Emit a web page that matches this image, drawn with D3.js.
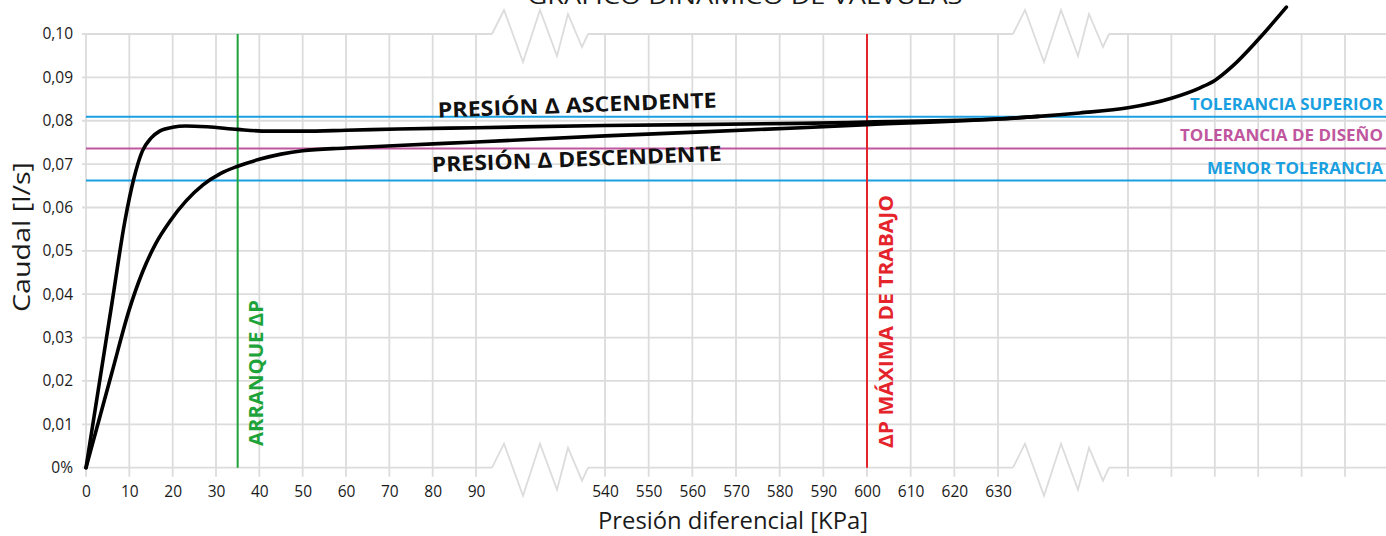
<!DOCTYPE html>
<html><head><meta charset="utf-8">
<script src="https://cdn.jsdelivr.net/npm/d3@7"></script>
<style>body{margin:0;background:#fff}svg{display:block}</style>
</head><body>
<script>
// ---------- DATA ----------
const xTicksLabeled = [0,10,20,30,40,50,60,70,80,90,540,550,560,570,580,590,600,610,620,630];
const xTicksHidden = [700,710,720,730,740,750];
const yTicks = [0,0.01,0.02,0.03,0.04,0.05,0.06,0.07,0.08,0.09,0.10];
const yTickLabels = ["0%","0,01","0,02","0,03","0,04","0,05","0,06","0,07","0,08","0,09","0,10"];
// Presión Δ ascendente (kPa, l/s)
const ascending = [[0,0],[3,0.019],[6,0.038],[9,0.057],[11,0.0665],[13,0.0730],[15,0.0760],[17,0.0776],[20,0.0785],[23,0.0788],[28,0.0786],[35,0.0780],[42,0.0776],[50,0.0776],[60,0.0778],[72,0.0781],[90,0.0784],[540,0.0789],[585,0.0794],[600,0.0797],[630,0.0804],[652,0.0810],[674,0.0818],[700,0.0830],[710,0.0852],[716.6,0.0876],[720,0.0893],[724.2,0.0927],[729.8,0.0985],[736.5,0.1062]];
// Presión Δ descendente
const descending = [[0,0],[3,0.011],[6,0.022],[10,0.0365],[13,0.0450],[16,0.0515],[19.5,0.0570],[23,0.0614],[27,0.0652],[31,0.0678],[35,0.0695],[40,0.0711],[45,0.0723],[50,0.0731],[60,0.0737],[72,0.0743],[90,0.0751],[540,0.0765],[585,0.0784],[600,0.0791],[630,0.0804],[652,0.0810]];
const tolerances = [
  {name:"TOLERANCIA SUPERIOR", value:0.0809, color:"#1a9fe0"},
  {name:"TOLERANCIA DE DISEÑO", value:0.0736, color:"#c0579e"},
  {name:"MENOR TOLERANCIA", value:0.0662, color:"#1a9fe0"}
];
const arranque = 35;
const maxTrabajo = 600;
const title = "GRÁFICO DINÁMICO DE VÁLVULAS";
const xTitle = "Presión diferencial [KPa]";
const yTitle = "Caudal [l/s]";

// ---------- LAYOUT ----------
const W = 1386, H = 536;
const svg = d3.select("body").append("svg").attr("width", W).attr("height", H);
const x = d3.scaleLinear().domain([0,90,540,630,700,750]).range([86,476,605,998,1128,1345]);
const y = d3.scaleLinear().domain([0,0.10]).range([467.7,34]);
const grid = "#dcdcdc", gw = 1.8;
const tickFont = "'Open Sans', sans-serif";
const boldFont = "'Open Sans', sans-serif";

// Break zigzag shape
const zig = [[0,0],[12,-24],[31,28],[48,-24],[65,22],[76,-20],[90,13],[96,0]];
const breaks = [x(90)+16, x(630)+15];
const gridG = svg.append("g");

// horizontal gridlines
yTicks.forEach((v,i) => {
  const yy = y(v);
  if (i === 0 || i === yTicks.length-1) {
    const segs = [[82, breaks[0]], [breaks[0]+96, breaks[1]], [breaks[1]+96, W]];
    segs.forEach(s => gridG.append("line").attr("x1", s[0]).attr("x2", s[1]).attr("y1", yy).attr("y2", yy)
      .attr("stroke", grid).attr("stroke-width", gw));
    breaks.forEach(b => gridG.append("path")
      .attr("d", d3.line()(zig.map(p => [b+p[0], yy+p[1]])))
      .attr("fill","none").attr("stroke", grid).attr("stroke-width", gw).attr("stroke-linejoin","miter"));
  } else {
    gridG.append("line").attr("x1", 82).attr("x2", W).attr("y1", yy).attr("y2", yy)
      .attr("stroke", grid).attr("stroke-width", gw);
  }
});
// vertical gridlines
xTicksLabeled.concat(xTicksHidden).forEach(v => {
  gridG.append("line").attr("x1", x(v)).attr("x2", x(v)).attr("y1", y(0.10)).attr("y2", y(0)+9)
    .attr("stroke", grid).attr("stroke-width", gw);
});

// axes labels via d3 axes (domain & ticks hidden, only text)
const xAxis = d3.axisBottom(x).tickValues(xTicksLabeled).tickSize(0).tickPadding(0).tickFormat(d3.format("d"));
const gx = svg.append("g").attr("transform", `translate(0,${y(0)+29.5})`).call(xAxis);
gx.select(".domain").remove();
gx.selectAll("text").attr("font-family", tickFont).attr("font-size", 15.5).attr("fill","#1a1a1a").attr("dy", 0);

const yAxis = d3.axisLeft(y).tickValues(yTicks).tickSize(0).tickPadding(0).tickFormat((d,i) => yTickLabels[i]);
const gy = svg.append("g").attr("transform", `translate(73,0)`).call(yAxis);
gy.select(".domain").remove();
gy.selectAll("text").attr("font-family", tickFont).attr("font-size", 15.5).attr("fill","#1a1a1a");

// axis titles
svg.append("text").attr("x", 733).attr("y", 528.5).attr("text-anchor","middle")
  .attr("font-family", tickFont).attr("font-size", 23).attr("fill","#1a1a1a")
  .attr("textLength", 270).attr("lengthAdjust","spacingAndGlyphs").text(xTitle);
svg.append("text").attr("transform","translate(30,237) rotate(-90)").attr("text-anchor","middle")
  .attr("font-family", tickFont).attr("font-size", 23.5).attr("fill","#1a1a1a")
  .attr("textLength", 150).attr("lengthAdjust","spacingAndGlyphs").text(yTitle);

// title (cut off at top, as in the reference)
svg.append("text").attr("x", 745).attr("y", 4).attr("text-anchor","middle")
  .attr("font-family", boldFont).attr("font-size", 21).attr("fill","#1a1a1a")
  .attr("textLength", 435).attr("lengthAdjust","spacingAndGlyphs").text(title);

// tolerance lines
const tolLen = [193, 203, 176];
tolerances.forEach((t,i) => {
  svg.append("line").attr("x1", x(0)).attr("x2", W).attr("y1", y(t.value)).attr("y2", y(t.value))
    .attr("stroke", t.color).attr("stroke-width", 2);
  svg.append("text").attr("x", 1383).attr("y", y(t.value) - 7).attr("text-anchor","end")
    .attr("font-family", boldFont).attr("font-weight", 700).attr("font-size", 15.5).attr("fill", t.color)
    .attr("textLength", tolLen[i]).attr("lengthAdjust","spacingAndGlyphs").text(t.name);
});

// vertical markers
svg.append("line").attr("x1", x(arranque)).attr("x2", x(arranque)).attr("y1", y(0.10)).attr("y2", y(0))
  .attr("stroke", "#1ea33a").attr("stroke-width", 2);
svg.append("text").attr("transform", `translate(${x(arranque)+25},446) rotate(-90)`)
  .attr("font-family", boldFont).attr("font-weight", 700).attr("font-size", 19).attr("fill", "#1ea33a")
  .attr("textLength", 146).attr("lengthAdjust","spacingAndGlyphs").text("ARRANQUE ΔP");
svg.append("line").attr("x1", x(maxTrabajo)).attr("x2", x(maxTrabajo)).attr("y1", y(0.10)).attr("y2", y(0))
  .attr("stroke", "#e4232b").attr("stroke-width", 2);
svg.append("text").attr("transform", `translate(${x(maxTrabajo)+26},448) rotate(-90)`)
  .attr("font-family", boldFont).attr("font-weight", 700).attr("font-size", 19).attr("fill", "#e4232b")
  .attr("textLength", 253).attr("lengthAdjust","spacingAndGlyphs").text("ΔP MÁXIMA DE TRABAJO");

// curves
const line = d3.line().x(d => x(d[0])).y(d => y(d[1])).curve(d3.curveMonotoneX);
[descending, ascending].forEach(s => svg.append("path").attr("d", line(s))
  .attr("fill","none").attr("stroke","#000").attr("stroke-width",3.6).attr("stroke-linecap","round"));

// curve labels
svg.append("text").attr("transform","translate(438,117.5) rotate(-2.06)")
  .attr("font-family", boldFont).attr("font-weight", 700).attr("font-size", 21).attr("fill","#111")
  .attr("textLength", 279).attr("lengthAdjust","spacingAndGlyphs").text("PRESIÓN Δ ASCENDENTE");
svg.append("text").attr("transform","translate(432,172) rotate(-2.2)")
  .attr("font-family", boldFont).attr("font-weight", 700).attr("font-size", 21).attr("fill","#111")
  .attr("textLength", 290).attr("lengthAdjust","spacingAndGlyphs").text("PRESIÓN Δ DESCENDENTE");
</script>
</body></html>
